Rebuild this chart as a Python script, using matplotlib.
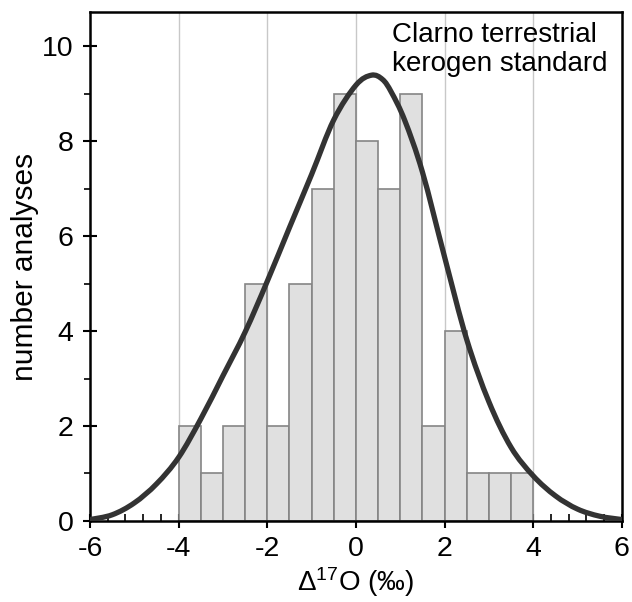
import numpy as np
import matplotlib
matplotlib.use('Agg')
from matplotlib import pyplot as plt
from matplotlib.ticker import MultipleLocator
from matplotlib.path import Path
from matplotlib.patches import PathPatch

plt.rcParams['font.family'] = ['Liberation Sans', 'DejaVu Sans']
plt.rcParams['mathtext.fontset'] = 'custom'
plt.rcParams['mathtext.rm'] = 'Liberation Sans'
plt.rcParams['mathtext.it'] = 'Liberation Sans:italic'
plt.rcParams['axes.unicode_minus'] = False

# histogram bins (left edges, width 0.5) and counts
bin_left = [-4.0, -3.5, -3.0, -2.5, -2.0, -1.5, -1.0, -0.5,
            0.0, 0.5, 1.0, 1.5, 2.0, 2.5, 3.0, 3.5]
counts = [2, 1, 2, 5, 2, 5, 7, 9, 8, 7, 9, 2, 4, 1, 1, 1]
bin_width = 0.5

# fitted curve
curve_x = [-6.0, -5.5, -5.0, -4.5, -4.0, -3.5, -3.0, -2.5, -2.0, -1.5, -1.0,
           -0.5, 0.0, 0.35, 0.6, 0.8, 1.1, 1.5, 2.0, 2.5, 3.0, 3.5, 4.0,
           4.5, 5.0, 5.5, 6.0]
curve_y = [0.03, 0.13, 0.38, 0.78, 1.34, 2.15, 3.06, 3.98, 5.05, 6.18, 7.3,
           8.45, 9.18, 9.39, 9.3, 9.03, 8.44, 7.35, 5.56, 3.82, 2.51, 1.55, 0.95,
           0.53, 0.25, 0.1, 0.03]

fig = plt.figure(figsize=(6.32, 6.02), dpi=100)
ax = fig.add_axes([0.1424, 0.1346, 0.8416, 0.8454])

for gx in [-4, -2, 0, 2, 4]:
    ax.axvline(gx, color='#c8c8c8', lw=1.0, zorder=0)

ax.bar(bin_left, counts, width=bin_width, align='edge',
       color='#e0e0e0', edgecolor='#858585', linewidth=1.2, zorder=2)

# smooth path through the read points (catmull-rom -> bezier)
px = np.array(curve_x)
py = np.array(curve_y)
verts = [(px[0], py[0])]
codes = [Path.MOVETO]
n = len(px)
for i in range(n - 1):
    p0 = np.array([px[max(i - 1, 0)], py[max(i - 1, 0)]])
    p1 = np.array([px[i], py[i]])
    p2 = np.array([px[i + 1], py[i + 1]])
    p3 = np.array([px[min(i + 2, n - 1)], py[min(i + 2, n - 1)]])
    c1 = p1 + (p2 - p0) / 6
    c2 = p2 - (p3 - p1) / 6
    verts += [tuple(c1), tuple(c2), tuple(p2)]
    codes += [Path.CURVE4] * 3
ax.add_patch(PathPatch(Path(verts, codes), facecolor='none',
                       edgecolor='#333333', lw=3.8, zorder=3,
                       capstyle='round', joinstyle='round'))

ax.set_xlim(-6, 6)
ax.set_ylim(0, 10.72)
ax.xaxis.set_major_locator(MultipleLocator(2))
ax.xaxis.set_minor_locator(MultipleLocator(0.4))
ax.yaxis.set_major_locator(MultipleLocator(2))
ax.yaxis.set_minor_locator(MultipleLocator(1))

ax.tick_params(axis='both', which='major', direction='inout', length=10,
               width=1.5, labelsize=20.5)
ax.tick_params(axis='x', which='major', pad=6)
ax.tick_params(axis='y', which='major', pad=7)
ax.tick_params(axis='x', which='minor', direction='in', length=5, width=1.2)
ax.tick_params(axis='y', which='minor', direction='out', length=4, width=1.2)
ax.tick_params(top=False, right=False, which='both')

for s in ax.spines.values():
    s.set_linewidth(1.8)

ax.set_xlabel('Δ$^{17}$O (‰)', fontsize=20, labelpad=2)
ax.set_ylabel('number analyses', fontsize=21.5, labelpad=2)

ax.text(0.81, 10.5, 'Clarno terrestrial\nkerogen standard',
        ha='left', va='top', fontsize=20, linespacing=1.12)

fig.savefig('out.png', dpi=100)
